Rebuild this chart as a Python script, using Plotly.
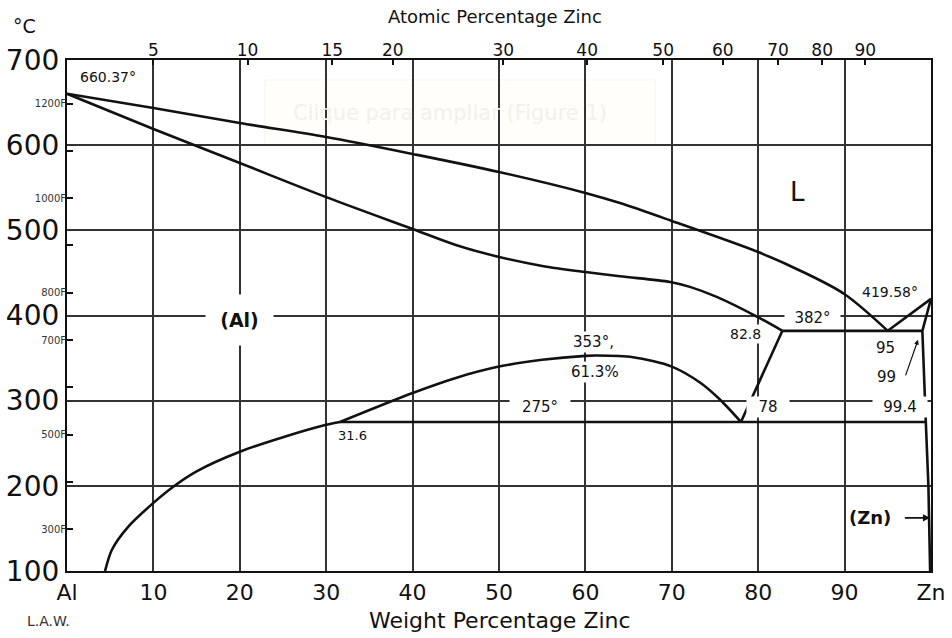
import plotly.graph_objects as go

# ---------------- data (weight % Zn, temperature °C) ----------------
liq_al_wt = [0, 10, 20, 30, 40, 50, 60, 64, 70, 80, 85, 90, 95]
liq_al_t = [660.37, 643.7, 626, 609.6, 589.7, 568.5, 543.9, 532, 511, 474.5, 452, 425, 382]

liq_zn_wt = [95, 100]
liq_zn_t = [382, 419.58]

sol_al_wt = [0, 10, 20, 30, 40, 45, 50, 55, 60, 64, 69.8, 72.1, 75.2, 79.9, 82.8]
sol_al_t = [660.37, 619, 579, 539, 501.6, 482.9, 468.8, 458.2, 451, 446, 439.4, 433.6, 421.8, 398.4, 382]

eut_wt = [82.8, 99]
eut_t = [382, 382]

alp_wt = [82.8, 78]
alp_t = [382, 275]

eutd_wt = [31.6, 99.4]
eutd_t = [275, 275]

solv_wt = [4.4, 5.2, 7, 10, 12.3, 15, 20, 25, 30, 31.6]
solv_t = [100, 125, 151, 180, 199, 217, 240, 257, 271.6, 275]

gap_wt = [31.6, 40, 45, 50, 55, 60, 61.3, 65.5, 70, 73.3, 75.6, 78]
gap_t = [275, 309, 326.7, 340, 348, 352.6, 353, 351, 340, 321, 301, 275]

zn_wt = [100, 99, 99.4, 99.7, 99.9]
zn_t = [419.58, 382, 275, 200, 100]

# bottom axis
wt_ticks = [0, 10, 20, 30, 40, 50, 60, 70, 80, 90, 100]
wt_text = ["Al", "10", "20", "30", "40", "50", "60", "70", "80", "90", "Zn"]
# top axis (atomic %), positions read in weight % from the picture
at_pos = [10.0, 20.9, 30.7, 37.7, 50.5, 60.2, 69.0, 75.9, 82.3, 87.4, 92.4]
at_text = ["5", "10", "15", "20", "30", "40", "50", "60", "70", "80", "90"]
# left axis
c_ticks = [100, 200, 300, 400, 500, 600, 700]
f_ticks = [300, 400, 500, 600, 700, 800, 900, 1000, 1100, 1200]
f_labeled = [300, 500, 700, 800, 1000, 1200]

FONT = "DejaVu Sans"
BLACK = "#111111"

fig = go.Figure()


def curve(x, y, shape="linear", smoothing=0.9):
    fig.add_trace(go.Scatter(x=x, y=y, mode="lines",
                             line=dict(color=BLACK, width=2.6, shape=shape,
                                       smoothing=smoothing),
                             hoverinfo="skip", showlegend=False))


curve(liq_al_wt, liq_al_t, "spline")
curve(liq_zn_wt, liq_zn_t)
curve(sol_al_wt, sol_al_t, "spline")
curve(eut_wt, eut_t)
curve(alp_wt, alp_t)
curve(eutd_wt, eutd_t)
curve(solv_wt, solv_t, "spline", 0.8)
curve(gap_wt, gap_t, "spline", 0.8)
curve(zn_wt, zn_t)

# hidden traces for secondary axes
fig.add_trace(go.Scatter(x=[0, 100], y=[100, 700], xaxis="x2", mode="none",
                         showlegend=False, hoverinfo="skip"))
fig.add_trace(go.Scatter(x=[0, 100], y=[100, 700], yaxis="y2", mode="none",
                         showlegend=False, hoverinfo="skip"))

f_c = [(f - 32) * 5 / 9 for f in f_ticks]
f_txt = [f"{f}F" if f in f_labeled else "" for f in f_ticks]

# faint watermark box
fig.add_shape(type="rect", x0=22.9, x1=68.1, y0=600.5, y1=676.5,
              fillcolor="#fffefa", line=dict(color="#f7f5ec", width=1),
              layer="below")

ann = []


def label(x, y, text, size=14, bg=None, w=None, h=None, bold=False,
          color=BLACK):
    d = dict(x=x, y=y, xref="x", yref="y", text=f"<b>{text}</b>" if bold else text,
             showarrow=False, xanchor="center", yanchor="middle",
             font=dict(family=FONT, size=size, color=color))
    if bg:
        d["bgcolor"] = bg
    if w:
        d["width"] = w
    if h:
        d["height"] = h
    ann.append(d)


label(44.3, 637.8, "Clique para ampliar (Figure 1)", size=21, color="#f3f1ea")
label(4.75, 680, "660.37°", 14)
label(84.5, 545, "L", 26)
label(95.3, 427.7, "419.58°", 14)
label(86.3, 397, "382°", 15, bg="white", w=53)
label(78.5, 378.4, "82.8", 14, bg="white")
label(94.7, 362, "95", 15)
label(94.9, 328, "99", 15)
label(96.4, 292.7, "99.4", 15, bg="white", w=52)
label(81.1, 292.7, "78", 15, bg="white", w=40)
label(54.7, 292.7, "275°", 15, bg="white", w=58)
label(60.9, 369, "353°,", 15, bg="white")
label(61.1, 333.8, "61.3%", 15, bg="white")
label(33.0, 258.7, "31.6", 13)
label(20.0, 394.8, "(Al)", 19, bg="white", w=65, h=48, bold=True)
label(92.9, 162.4, "(Zn)", 18, bold=True)

# arrows
ann.append(dict(x=98.5, y=371.4, ax=97.0, ay=327.9, xref="x", yref="y",
                axref="x", ayref="y", text="", showarrow=True, arrowhead=2,
                arrowsize=0.8, arrowwidth=1.2, arrowcolor=BLACK))
ann.append(dict(x=99.9, y=162.4, ax=96.8, ay=162.4, xref="x", yref="y",
                axref="x", ayref="y", text="", showarrow=True, arrowhead=2,
                arrowsize=0.9, arrowwidth=1.6, arrowcolor=BLACK))


def ptext(px, py, text, size, color=BLACK):
    ann.append(dict(x=(px - 67) / 864, y=(571 - py) / 511, xref="x domain",
                    yref="y domain", text=text, showarrow=False,
                    xanchor="center", yanchor="middle",
                    font=dict(family=FONT, size=size, color=color)))


ptext(24, 26, "°C", 19)
ptext(495, 16, "Atomic Percentage Zinc", 18)
ptext(500, 621, "Weight Percentage Zinc", 22)
ptext(48, 621, "L.A.W.", 14, "#333")

fig.update_layout(
    width=952, height=638,
    margin=dict(l=67, r=21, t=60, b=67),
    paper_bgcolor="white", plot_bgcolor="white",
    annotations=ann,
    xaxis=dict(range=[0, 100], tickmode="array", tickvals=wt_ticks,
               ticktext=wt_text, showgrid=True, gridcolor="#333",
               gridwidth=1.6, zeroline=False, showline=True, linecolor=BLACK,
               linewidth=2.2, mirror=True, ticks="", automargin=False,
               tickfont=dict(family=FONT, size=22, color=BLACK)),
    xaxis2=dict(range=[0, 100], overlaying="x", side="top", anchor="y",
                tickmode="array", tickvals=at_pos, ticktext=at_text,
                showgrid=False, zeroline=False, ticks="inside", ticklen=5,
                tickcolor=BLACK, tickwidth=1.5, automargin=False,
                tickfont=dict(family=FONT, size=17, color=BLACK)),
    yaxis=dict(range=[100, 700], tickmode="array", tickvals=c_ticks,
               showgrid=True, gridcolor="#333", gridwidth=1.6, zeroline=False,
               showline=True, linecolor=BLACK, linewidth=2.2, mirror=True,
               ticks="", automargin=False,
               tickfont=dict(family=FONT, size=28, color=BLACK)),
    yaxis2=dict(range=[100, 700], overlaying="y", side="left", anchor="x",
                tickmode="array", tickvals=f_c, ticktext=f_txt,
                showgrid=False, zeroline=False, ticks="inside", ticklen=6,
                tickcolor=BLACK, tickwidth=1.5, automargin=False,
                tickfont=dict(family=FONT, size=10, color="#333")),
)

fig.write_html("out.html", config={"displayModeBar": False},
               post_script="document.body.style.margin='0px';"
                           "document.body.style.overflow='hidden';")
